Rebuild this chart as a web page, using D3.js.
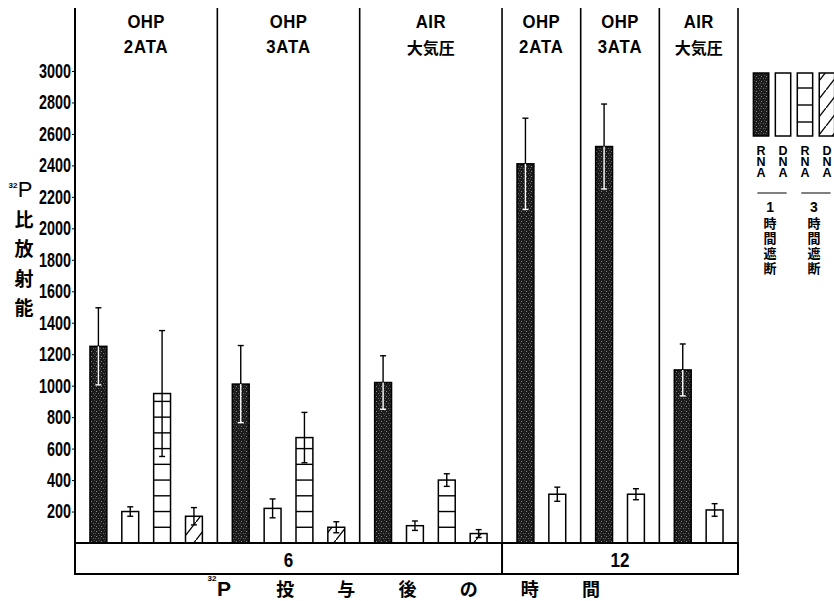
<!DOCTYPE html>
<html>
<head>
<meta charset="utf-8">
<script src="https://cdn.jsdelivr.net/npm/d3@7"></script>
<style>
  body { margin: 0; background: #fff; }
</style>
</head>
<body>
<svg id="chart" width="834" height="601"></svg>
<script>
// panels (exposure condition) and the time group each belongs to
const panelTime = ["6", "6", "6", "12", "12", "12"];
const gasLine1 = ["OHP", "OHP", "AIR", "OHP", "OHP", "AIR"];
const gasLine2 = ["2ATA", "3ATA", "大気圧", "2ATA", "3ATA", "大気圧"];

// series: RNA / DNA after 1 h and 3 h blocking
const seriesKeys = ["rna1", "dna1", "rna3", "dna3"];
const rna1 = [1250, 1010, 1020, 2410, 2520, 1100];
const rna1Err = [245, 245, 170, 290, 270, 165];
const dna1 = [200, 220, 110, 310, 310, 210];
const dna1Err = [30, 60, 30, 45, 35, 40];
const rna3 = [950, 670, 400, null, null, null];
const rna3Err = [400, 160, 40, null, null, null];
const dna3 = [170, 100, 60, null, null, null];
const dna3Err = [55, 35, 25, null, null, null];

const yTicks = d3.range(200, 3001, 200);
const xTitle = ["P", "投", "与", "後", "の", "時", "間"];
const yTitle = ["比", "放", "射", "能"];

const values = { rna1, dna1, rna3, dna3 };
const errors = { rna1: rna1Err, dna1: dna1Err, rna3: rna3Err, dna3: dna3Err };

const svg = d3.select("#chart");
const plotL = 75, plotR = 738, plotT = 8, base = 543, boxBottom = 574;
const pad = 0.47;
const latin = "'Liberation Sans', Arial, sans-serif";
const cjk = "'Noto Sans CJK JP', sans-serif";

const y = d3.scaleLinear().domain([0, 3000]).range([base, 71]);

// ---- patterns
const defs = svg.append("defs");
const stip = defs.append("pattern").attr("id", "stipple")
  .attr("patternUnits", "userSpaceOnUse").attr("width", 5).attr("height", 5);
stip.append("rect").attr("width", 5).attr("height", 5).attr("fill", "#1a1a1a");
[[1, 1, "#8a8a8a"], [3, 3, "#6a6a6a"], [4, 0, "#4a4a4a"], [0, 3, "#555"]].forEach(([px, py, c]) =>
  stip.append("rect").attr("x", px).attr("y", py).attr("width", 1).attr("height", 1).attr("fill", c));

const hatch = defs.append("pattern").attr("id", "hatch")
  .attr("patternUnits", "userSpaceOnUse").attr("width", 14).attr("height", 18);
hatch.append("rect").attr("width", 14).attr("height", 18).attr("fill", "#fff");
hatch.append("line").attr("x1", -1).attr("y1", 19.3).attr("x2", 15).attr("y2", -1.3)
  .attr("stroke", "#000").attr("stroke-width", 1.3);

// ---- panel layout
const panels = panelTime.map((t, i) => {
  const keys = seriesKeys.filter(k => values[k][i] != null);
  return { i, t, keys, units: keys.length + pad };
});
const totalUnits = d3.sum(panels, p => p.units);
const xu = d3.scaleLinear().domain([0, totalUnits]).range([plotL, plotR]);
let acc = 0;
panels.forEach(p => {
  p.x0 = xu(acc); acc += p.units; p.x1 = xu(acc);
  p.band = d3.scaleBand().domain(p.keys).range([p.x0, p.x1]).padding(pad);
});

// ---- panel separators
svg.append("g").selectAll("line").data(panels).join("line")
  .attr("x1", d => d.x1).attr("x2", d => d.x1)
  .attr("y1", plotT).attr("y2", base)
  .attr("stroke", "#000").attr("stroke-width", 1.6);

// ---- headers
function condensed(g, txt, x, yy, size, sx, weight, family) {
  return g.append("text")
    .attr("transform", `translate(${x},${yy}) scale(${sx},1)`)
    .attr("text-anchor", "middle")
    .attr("font-family", family || latin)
    .attr("font-size", size)
    .attr("font-weight", weight || "bold")
    .text(txt);
}
const head = svg.append("g");
panels.forEach(p => {
  const cx = (p.x0 + p.x1) / 2;
  condensed(head, gasLine1[p.i], cx, 28, 19, 0.88, "bold").attr("letter-spacing", 0.5);
  if (/[A-Z0-9]/.test(gasLine2[p.i]))
    condensed(head, gasLine2[p.i], cx, 53, 19, 0.88, "bold").attr("letter-spacing", 1);
  else
    condensed(head, gasLine2[p.i], cx, 54, 16, 1, "bold", cjk);
});

// ---- bars
const bars = svg.append("g");
panels.forEach(p => {
  p.keys.forEach(k => {
    const v = values[k][p.i], e = errors[k][p.i];
    const bx = p.band(k), bw = p.band.bandwidth(), cx = bx + bw / 2;
    const fill = k === "rna1" ? "url(#stipple)" : k === "dna3" ? "url(#hatch)" : "#fff";
    bars.append("rect")
      .attr("x", bx).attr("y", y(v)).attr("width", bw).attr("height", base - y(v))
      .attr("fill", fill).attr("stroke", "#000").attr("stroke-width", 1.5);
    if (k === "rna3") {
      d3.range(100, v, 100).forEach(s =>
        bars.append("line").attr("x1", bx).attr("x2", bx + bw)
          .attr("y1", y(s)).attr("y2", y(s)).attr("stroke", "#000").attr("stroke-width", 1.4));
    }
    // error bar
    const lowCol = k === "rna1" ? "#fff" : "#000";
    bars.append("line").attr("x1", cx).attr("x2", cx).attr("y1", y(v)).attr("y2", y(v + e))
      .attr("stroke", "#000").attr("stroke-width", 1.4);
    bars.append("line").attr("x1", cx - 3).attr("x2", cx + 3).attr("y1", y(v + e)).attr("y2", y(v + e))
      .attr("stroke", "#000").attr("stroke-width", 1.4);
    bars.append("line").attr("x1", cx).attr("x2", cx).attr("y1", y(v)).attr("y2", y(v - e))
      .attr("stroke", lowCol).attr("stroke-width", 1.4);
    bars.append("line").attr("x1", cx - 3).attr("x2", cx + 3).attr("y1", y(v - e)).attr("y2", y(v - e))
      .attr("stroke", lowCol).attr("stroke-width", 1.4);
  });
});

// ---- y axis
const yAxis = svg.append("g").attr("transform", `translate(${plotL},0)`)
  .call(d3.axisLeft(y).tickValues(yTicks).tickFormat(d3.format("d")).tickSize(3).tickSizeOuter(0));
yAxis.select(".domain").remove();
yAxis.selectAll("text")
  .attr("font-family", latin).attr("font-size", 20).attr("font-weight", "bold")
  .attr("fill", "#000")
  .attr("x", -4 / 0.72).attr("transform", "scale(0.72,1)");
svg.append("line").attr("x1", plotL).attr("x2", plotL).attr("y1", plotT).attr("y2", boxBottom)
  .attr("stroke", "#000").attr("stroke-width", 2);

// y title
svg.append("text").attr("x", 25).attr("y", 197).attr("text-anchor", "middle")
  .attr("font-family", latin).attr("font-size", 22).text("P");
svg.append("text").attr("x", 13).attr("y", 188).attr("text-anchor", "middle")
  .attr("font-family", latin).attr("font-size", 8).attr("font-weight", "bold").text("32");
svg.append("g").selectAll("text").data(yTitle).join("text")
  .attr("x", 24).attr("y", (d, i) => 218 + i * 29.5)
  .attr("text-anchor", "middle").attr("dominant-baseline", "central")
  .attr("font-family", cjk).attr("font-size", 19).attr("font-weight", "bold")
  .text(d => d);

// ---- baseline box with time groups
svg.append("rect").attr("x", plotL).attr("y", base).attr("width", plotR - plotL)
  .attr("height", boxBottom - base).attr("fill", "none")
  .attr("stroke", "#000").attr("stroke-width", 2);
const groups = d3.groups(panels, p => p.t).map(([t, ps]) => ({
  t, x0: d3.min(ps, p => p.x0), x1: d3.max(ps, p => p.x1)
}));
groups.forEach((g, i) => {
  if (i > 0) svg.append("line").attr("x1", g.x0).attr("x2", g.x0)
    .attr("y1", base).attr("y2", boxBottom).attr("stroke", "#000").attr("stroke-width", 2);
  condensed(svg, g.t, (g.x0 + g.x1) / 2, 567, 20, 0.85, "bold");
});

// x title
const xt = d3.scalePoint().domain(d3.range(xTitle.length)).range([224, 591]);
svg.append("g").selectAll("text").data(xTitle).join("text")
  .attr("x", (d, i) => xt(i)).attr("y", 588)
  .attr("text-anchor", "middle").attr("dominant-baseline", "central")
  .attr("font-family", (d, i) => i === 0 ? latin : cjk)
  .attr("font-size", (d, i) => i === 0 ? 21 : 18).attr("font-weight", "bold")
  .text(d => d);
svg.append("text").attr("x", 212).attr("y", 581).attr("text-anchor", "middle")
  .attr("font-family", latin).attr("font-size", 8).attr("font-weight", "bold").text("32");

// ---- legend
const legendKeys = seriesKeys;
const lx = d3.scaleBand().domain(legendKeys).range([749, 839]).paddingInner(0.3).paddingOuter(0.2);
const leg = svg.append("g");
legendKeys.forEach(k => {
  const bx = lx(k), bw = lx.bandwidth(), cx = bx + bw / 2;
  const fill = k === "rna1" ? "url(#stipple)" : k === "dna3" ? "url(#hatch)" : "#fff";
  leg.append("rect").attr("x", bx).attr("y", 73).attr("width", bw).attr("height", 63)
    .attr("fill", fill).attr("stroke", "#000").attr("stroke-width", 1.5);
  if (k === "rna3") [88, 105, 122].forEach(ly =>
    leg.append("line").attr("x1", bx).attr("x2", bx + bw).attr("y1", ly).attr("y2", ly)
      .attr("stroke", "#000").attr("stroke-width", 1.4));
  const letters = k.startsWith("rna") ? ["R", "N", "A"] : ["D", "N", "A"];
  letters.forEach((c, j) =>
    leg.append("text").attr("x", cx).attr("y", 155 + j * 11).attr("text-anchor", "middle")
      .attr("font-family", latin).attr("font-size", 12.5).attr("font-weight", "bold").text(c));
});
[["rna1", "dna1", "1"], ["rna3", "dna3", "3"]].forEach(([a, b, h]) => {
  const x0 = lx(a) + 4, x1 = lx(b) + lx.bandwidth() - 4, cx = (x0 + x1) / 2 - 2;
  leg.append("line").attr("x1", x0).attr("x2", x1).attr("y1", 193).attr("y2", 193)
    .attr("stroke", "#000").attr("stroke-width", 1);
  leg.append("text").attr("x", cx).attr("y", 212).attr("text-anchor", "middle")
    .attr("font-family", latin).attr("font-size", 14).attr("font-weight", "bold").text(h);
  ["時", "間", "遮", "断"].forEach((c, j) =>
    leg.append("text").attr("x", cx).attr("y", 222 + j * 15).attr("text-anchor", "middle")
      .attr("dominant-baseline", "central")
      .attr("font-family", cjk).attr("font-size", 13).attr("font-weight", "bold").text(c));
});
</script>
</body>
</html>
